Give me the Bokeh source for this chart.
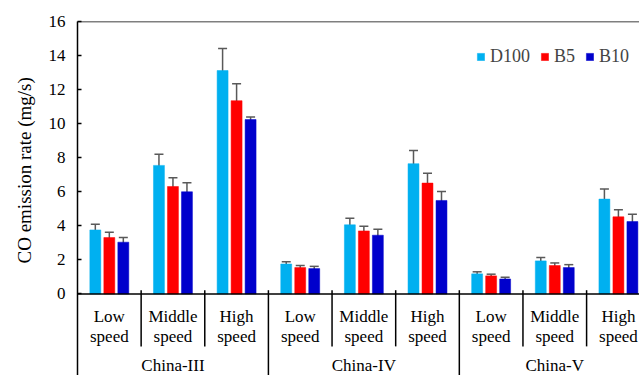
import numpy as np
import pandas as pd
from bokeh.plotting import figure
from bokeh.models import (ColumnDataSource, Range1d, FixedTicker, Span, Whisker, TeeHead,
                          Legend, LegendItem, Title)
from bokeh.transform import dodge
from bokeh.core.properties import value
from bokeh.embed import file_html
from bokeh.resources import INLINE

# ---- data ----
standards = ["China-III", "China-IV", "China-V"]
speeds = ["Low\nspeed", "Middle\nspeed", "High\nspeed"]
fuels = ["D100", "B5", "B10"]

d100 = [3.76, 7.55, 13.12, 1.76, 4.06, 7.65, 1.18, 1.94, 5.57]
b5 = [3.31, 6.31, 11.35, 1.55, 3.70, 6.51, 1.06, 1.67, 4.53]
b10 = [3.04, 6.00, 10.24, 1.49, 3.45, 5.49, 0.88, 1.55, 4.25]

d100_err = [0.33, 0.65, 1.30, 0.13, 0.38, 0.77, 0.12, 0.20, 0.59]
b5_err = [0.32, 0.51, 1.00, 0.12, 0.27, 0.58, 0.10, 0.15, 0.41]
b10_err = [0.27, 0.53, 0.15, 0.13, 0.35, 0.53, 0.10, 0.17, 0.43]

y_ticks = [0, 2, 4, 6, 8, 10, 12, 14, 16]

colors = ["#00B0F0", "#FF0000", "#0000CC"]
FONT = "Liberation Serif"

# ---- sources ----
n = len(standards) * len(speeds)
idx = np.arange(n)
df = pd.DataFrame({
    "idx": idx,
    "standard": [s for s in standards for _ in speeds],
    "speed": speeds * len(standards),
})
series = {"D100": (d100, d100_err), "B5": (b5, b5_err), "B10": (b10, b10_err)}
for f, (v, e) in series.items():
    df[f] = v
    df[f + "_lo"] = np.array(v) - np.array(e)
    df[f + "_hi"] = np.array(v) + np.array(e)
src = ColumnDataSource(df)

p = figure(width=639, height=375, output_backend="svg", toolbar_location=None,
           x_range=Range1d(-0.5, -0.5 + 563 / 63.75), y_range=Range1d(-4.79, 16),
           x_axis_location=None, min_border_left=76, min_border_right=0,
           min_border_top=21, min_border_bottom=0)
p.outline_line_color = None
p.xgrid.visible = False
p.ygrid.visible = False

# y axis
ax = p.yaxis[0]
ax.ticker = FixedTicker(ticks=y_ticks)
ax.major_tick_in = 4
ax.major_tick_out = 0
ax.minor_tick_line_color = None
ax.axis_line_width = 1.5
ax.axis_line_color = "black"
ax.major_tick_line_color = "black"
ax.major_tick_line_width = 1.5
ax.major_label_text_font = FONT
ax.major_label_text_font_size = "17px"
ax.major_label_text_color = "black"
ax.major_label_standoff = 12

# y axis title, placed along the 0-16 part of the axis
p.add_layout(Title(text="CO emission rate (mg/s)", align="left", offset=112,
                   text_font=FONT, text_font_size="19px", text_font_style="normal",
                   text_color="black", standoff=22), "left")

# frame lines
p.add_layout(Span(location=0, dimension="width", line_color="black", line_width=1.5))
p.add_layout(Span(location=16, dimension="width", line_color="black", line_width=1.5))

offsets = [-0.22, 0.0, 0.22]
items = []
for f, off, c in zip(fuels, offsets, colors):
    r = p.vbar(x=dodge("idx", off), top=f, width=0.172, bottom=0, source=src,
               fill_color=c, line_color=c, line_width=0.5)
    items.append(LegendItem(label=f, renderers=[r]))
    w = Whisker(source=src, base=dodge("idx", off), upper=f + "_hi", lower=f + "_lo",
                line_color="#595959", line_width=1.5,
                upper_head=TeeHead(size=9, line_color="#595959", line_width=1.5),
                lower_head=TeeHead(size=9, line_color="#595959", line_width=1.5))
    p.add_layout(w)

# category separators
bounds = idx[:-1]
major = [(i + 1) % len(speeds) == 0 for i in bounds]
sep = ColumnDataSource(dict(
    x=bounds,
    y1=np.where(major, -4.79, -3.08),
))
p.segment(x0=dodge("x", 0.5), x1=dodge("x", 0.5), y0=0.22, y1="y1", source=sep,
          line_color="black", line_width=1.5)

# speed labels
p.text(x="idx", y=-1.9, text="speed", source=src, text_font=value(FONT),
       text_font_size="17px", text_align="center", text_baseline="middle",
       text_line_height=1.08, text_color="black")

# standard labels
std_src = ColumnDataSource(dict(x=[i * len(speeds) + (len(speeds) - 1) / 2 for i in range(len(standards))],
                                label=standards))
p.text(x="x", y=-4.22, text="label", source=std_src, text_font=value(FONT),
       text_font_size="17px", text_align="center", text_baseline="middle", text_color="black")

legend = Legend(items=items, orientation="horizontal", location=(399, 308),
                glyph_width=9, glyph_height=9, label_standoff=5, spacing=10,
                padding=0, margin=0, border_line_color=None, background_fill_alpha=0,
                label_text_font=FONT, label_text_font_size="18px", label_height=18)
p.add_layout(legend)

open("out.html", "w").write(file_html(p, INLINE))
